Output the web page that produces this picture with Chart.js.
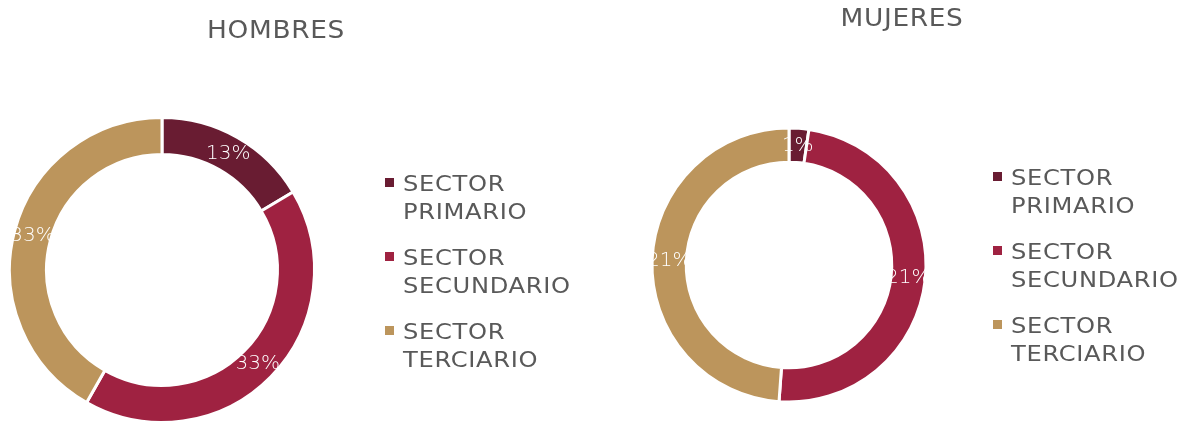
<!DOCTYPE html>
<html><head><meta charset="utf-8">
<script src="https://cdn.jsdelivr.net/npm/chart.js@4.4.1/dist/chart.umd.min.js"></script>
<style>
html,body{margin:0;padding:0;background:#fff;}
body{width:1183px;height:422px;position:relative;overflow:hidden;font-family:"DejaVu Sans",sans-serif;}
.cv{position:absolute;top:0;}
.title{position:absolute;color:#595959;font-size:24px;letter-spacing:0.6px;line-height:1;white-space:nowrap;transform:translateX(-50%) scaleX(1.1);}
.legend{position:absolute;color:#595959;font-size:22px;letter-spacing:0.6px;}
.sq{position:absolute;left:0;width:9px;height:9px;}
.txt{position:absolute;left:18px;line-height:28px;white-space:nowrap;transform-origin:0 0;transform:scaleX(1.1);}
</style>
</head><body>
<div class="cv" style="left:0;width:600px;height:430px;"><canvas id="c1"></canvas></div>
<div class="cv" style="left:600px;width:583px;height:422px;"><canvas id="c2"></canvas></div>
<div class="title" id="t1" style="left:276px;top:18px;"></div>
<div class="title" id="t2" style="left:902px;top:6px;"></div>
<div class="legend" id="l1" style="left:385px;top:0;"></div>
<div class="legend" id="l2" style="left:993px;top:0;"></div>
<script>
const titles = ["HOMBRES", "MUJERES"];
const categories = [["SECTOR", "PRIMARIO"], ["SECTOR", "SECUNDARIO"], ["SECTOR", "TERCIARIO"]];
const hombres = [13, 33, 33];
const mujeres = [1, 21, 21];
const colors = ["#691C32", "#9F2241", "#BC955C"];

const labelPlugin = {
  id: 'sliceLabels',
  afterDatasetsDraw(chart) {
    const ctx = chart.ctx;
    const ds = chart.data.datasets[0];
    chart.getDatasetMeta(0).data.forEach((arc, i) => {
      const p = arc.tooltipPosition();
      ctx.save();
      ctx.fillStyle = '#ffffff';
      ctx.font = '200 20px "DejaVu Sans"';
      ctx.textAlign = 'center';
      ctx.textBaseline = 'middle';
      ctx.fillText(ds.data[i] + '%', p.x, p.y);
      ctx.restore();
    });
  }
};

function makeChart(id, values, cutout, padding) {
  return new Chart(document.getElementById(id), {
    type: 'doughnut',
    data: {
      labels: categories.map(c => c.join(' ')),
      datasets: [{ data: values, backgroundColor: colors, borderColor: '#ffffff', borderWidth: 3 }]
    },
    options: {
      responsive: true, maintainAspectRatio: false, animation: false,
      cutout: cutout,
      layout: { padding: padding },
      plugins: { legend: { display: false }, tooltip: { enabled: false } }
    },
    plugins: [labelPlugin]
  });
}

makeChart('c1', hombres, '75.7%', { left: 8, right: 284, top: 116, bottom: 6 });
makeChart('c2', mujeres, '75%', { left: 50.5, right: 255.5, top: 126.5, bottom: 18.5 });

document.getElementById('t1').textContent = titles[0];
document.getElementById('t2').textContent = titles[1];

function buildLegend(id, firstBaseline) {
  const el = document.getElementById(id);
  categories.forEach((lines, i) => {
    const top = firstBaseline + i * 74;
    const sq = document.createElement('div');
    sq.className = 'sq';
    sq.style.background = colors[i];
    sq.style.top = (top - 13) + 'px';
    el.appendChild(sq);
    const t = document.createElement('div');
    t.className = 'txt';
    t.style.top = (top - 21) + 'px';
    t.innerHTML = lines.join('<br>');
    el.appendChild(t);
  });
}
buildLegend('l1', 191);
buildLegend('l2', 185);
</script>
</body></html>
